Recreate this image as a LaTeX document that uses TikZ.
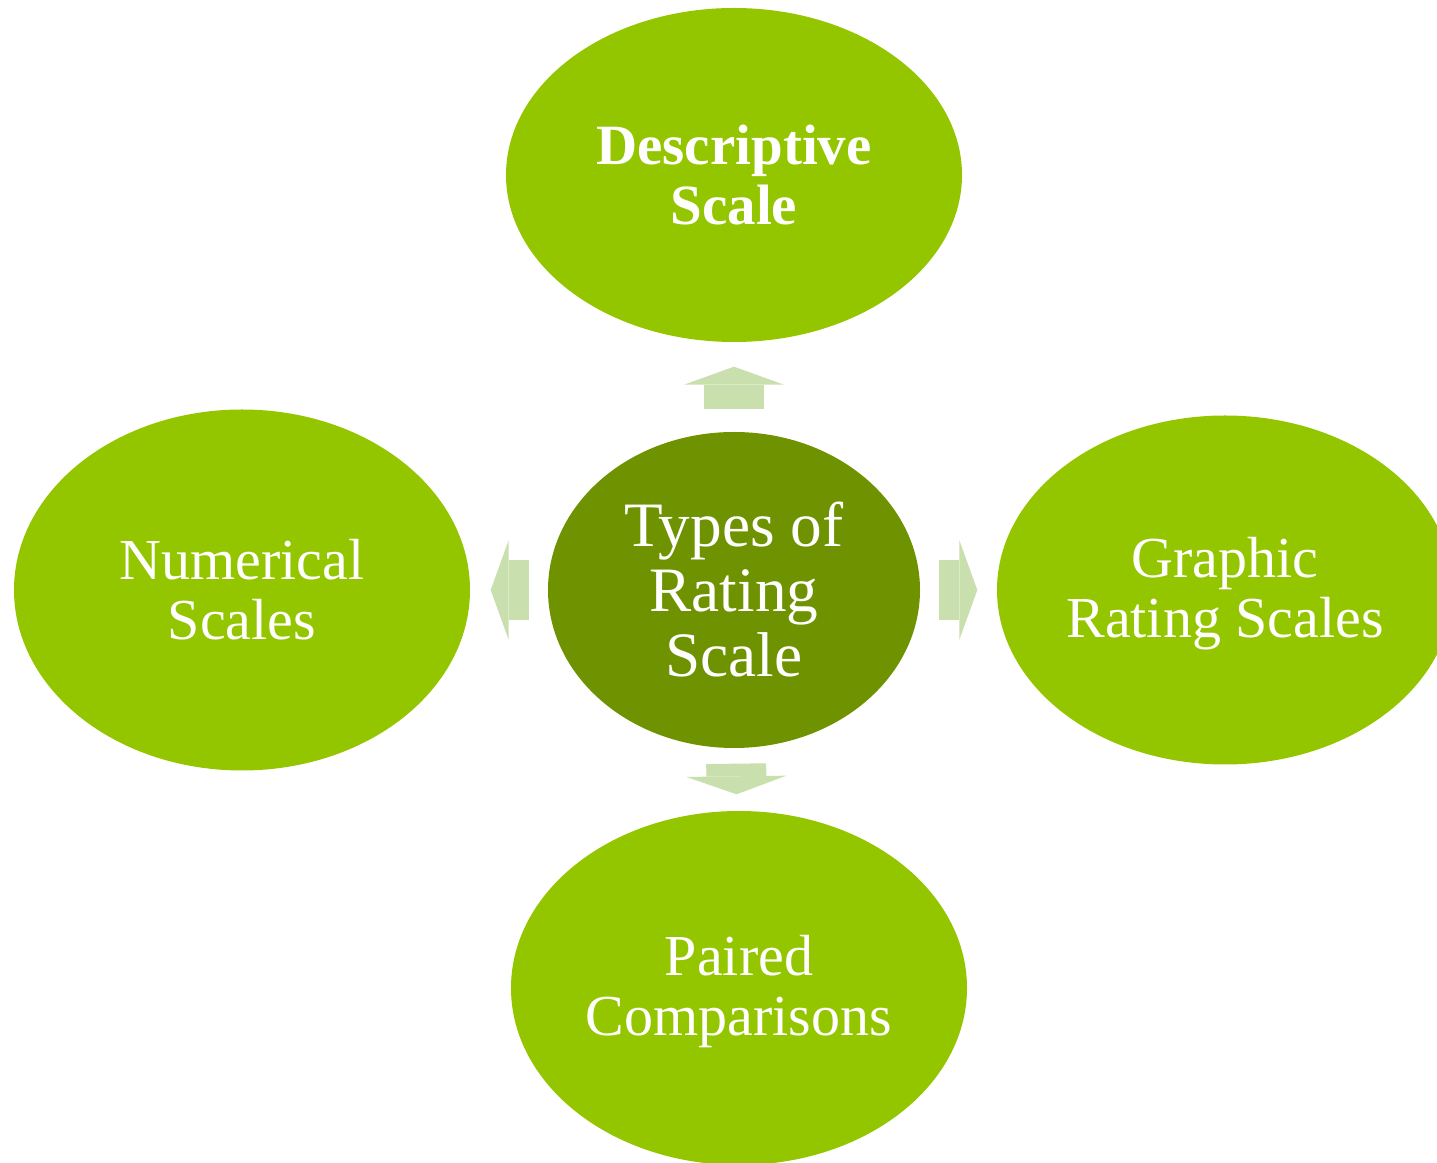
\documentclass[tikz,border=0pt]{standalone}
\usepackage{fontspec}
\setmainfont{Liberation Serif}
\usepackage{xcolor}
\usepackage{tikz}
\usetikzlibrary{arrows.meta, shapes.geometric}

\definecolor{leafgreen}{RGB}{148,198,0}
\definecolor{hubgreen}{RGB}{111,147,0}
\definecolor{arrowgreen}{RGB}{201,223,173}

\begin{document}
\begin{tikzpicture}[
    leaf/.style={ellipse, fill=leafgreen, inner sep=0pt, minimum width=4.56cm,
        text=white, align=center, font=\fontsize{16.5}{17.1}\selectfont},
    hub/.style={ellipse, fill=hubgreen, inner sep=0pt, minimum width=3.72cm,
        minimum height=3.16cm, text=white, align=center,
        font=\fontsize{18}{18.5}\selectfont},
    fatarrow/.style={arrowgreen, line width=0.6cm,
        -{Triangle[length=0.18cm, width=1cm, line width=0pt]}}
]
    \useasboundingbox (0, 0) rectangle (14.37, 11.63);
    \clip (0, 0) rectangle (14.37, 11.63);

    % Mitte
    \node[hub] (types) at (7.34, 5.73) {Types of\\Rating\\Scale};

    % die vier Arten
    \node[leaf, minimum height=3.34cm, font=\fontsize{16.2}{17.1}\selectfont\bfseries]
        (desc) at (7.34, 9.88) {Descriptive\\Scale};
    \node[leaf, minimum height=3.61cm] (num) at (2.42, 5.73) {Numerical\\Scales};
    \node[leaf, minimum height=3.49cm, text depth=0.05cm] (graph) at (12.25, 5.73) {Graphic\\Rating Scales};
    \node[leaf, minimum height=3.54cm, text depth=0.05cm] (paired) at (7.39, 1.75) {Paired\\Comparisons};

    % Pfeile
    \draw[fatarrow, shorten <=0.22cm, shorten >=0.24cm] (types) -- (desc);
    \draw[fatarrow, shorten <=0.18cm, shorten >=0.20cm] (types) -- (num);
    \draw[fatarrow, shorten <=0.18cm, shorten >=0.19cm] (types) -- (graph);
    \draw[fatarrow, shorten <=0.15cm, shorten >=0.16cm] (types) -- (paired);
\end{tikzpicture}
\end{document}
